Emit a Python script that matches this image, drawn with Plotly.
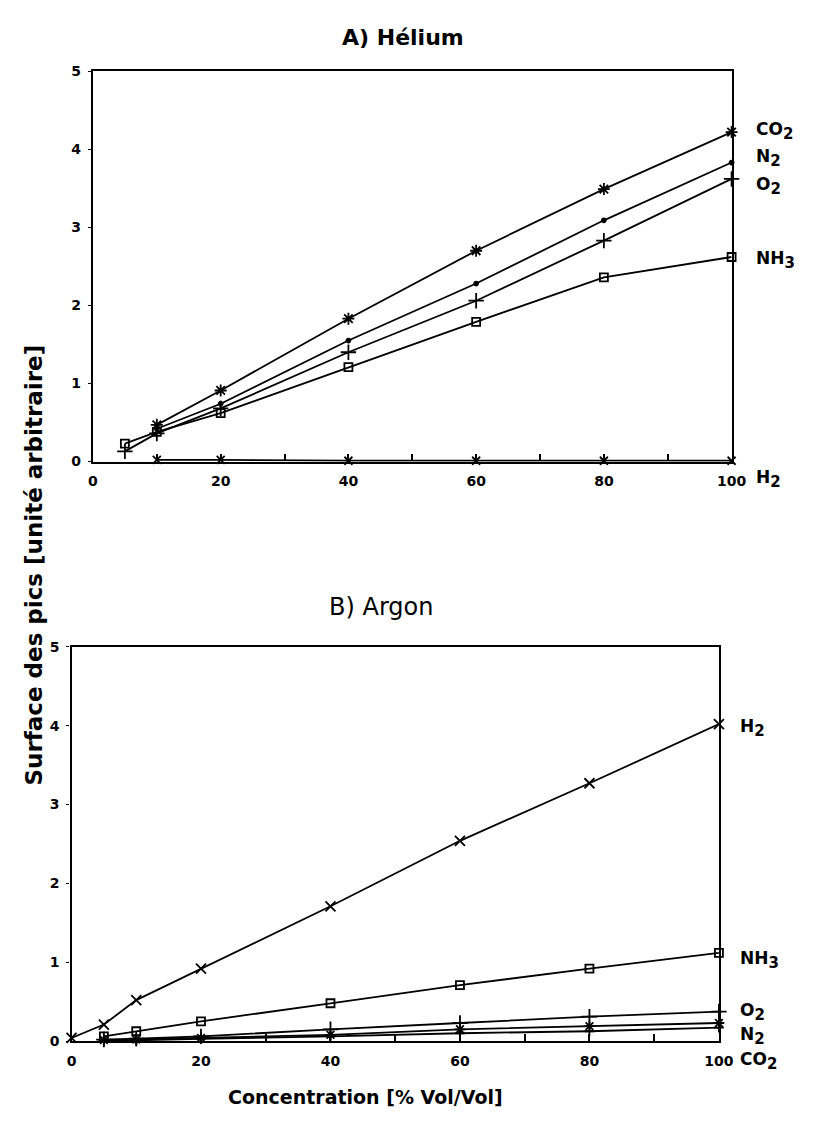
import plotly.graph_objects as go

# page is 817x1134; browser body keeps its default 8px margin
PAGE_W, PAGE_H = 817, 1134
PAD = 8
W, H = PAGE_W - 2 * PAD, PAGE_H - 2 * PAD

# ---------------- data ----------------
# A) Helium
he_co2_x = [10, 20, 40, 60, 80, 100]
he_co2_y = [0.47, 0.91, 1.83, 2.70, 3.49, 4.22]
he_n2_x = [10, 20, 40, 60, 80, 100]
he_n2_y = [0.42, 0.74, 1.55, 2.28, 3.09, 3.83]
he_o2_x = [5, 10, 20, 40, 60, 80, 100]
he_o2_y = [0.13, 0.36, 0.68, 1.40, 2.06, 2.83, 3.62]
he_nh3_x = [5, 10, 20, 40, 60, 80, 100]
he_nh3_y = [0.23, 0.38, 0.62, 1.21, 1.79, 2.36, 2.62]
he_h2_x = [10, 20, 40, 60, 80, 100]
he_h2_y = [0.02, 0.02, 0.01, 0.01, 0.01, 0.01]

# B) Argon
ar_h2_x = [0, 5, 10, 20, 40, 60, 80, 100]
ar_h2_y = [0.04, 0.21, 0.52, 0.92, 1.71, 2.54, 3.27, 4.02]
ar_nh3_x = [5, 10, 20, 40, 60, 80, 100]
ar_nh3_y = [0.06, 0.125, 0.25, 0.48, 0.71, 0.92, 1.12]
ar_o2_x = [5, 10, 20, 40, 60, 80, 100]
ar_o2_y = [0.02, 0.03, 0.06, 0.15, 0.23, 0.31, 0.375]
ar_n2_x = [5, 10, 20, 40, 60, 80, 100]
ar_n2_y = [0.015, 0.02, 0.04, 0.08, 0.15, 0.19, 0.23]
ar_co2_x = [5, 10, 20, 40, 60, 80, 100]
ar_co2_y = [0.01, 0.01, 0.03, 0.06, 0.10, 0.125, 0.17]

x_tickvals = [0, 10, 20, 30, 40, 50, 60, 70, 80, 90, 100]
x_ticktext = ["0", "", "20", "", "40", "", "60", "", "80", "", "100"]
y_tickvals = [0, 1, 2, 3, 4, 5]
y_ticktext = ["0", "1", "2", "3", "4", "5"]

def chem(base, idx):
    return base + '<sub><span style="font-size:15px">' + idx + '</span></sub>'

labels_he = [chem("CO", "2"), chem("N", "2"), chem("O", "2"), chem("NH", "3"), chem("H", "2")]
labels_ar = [chem("H", "2"), chem("NH", "3"), chem("O", "2"), chem("N", "2"), chem("CO", "2")]

FONT = "DejaVu Sans"

def px_x(p):
    return (p - PAD) / W

def px_y(p):
    return 1 - (p - PAD) / H

fig = go.Figure()

line = dict(color="black", width=1.8)

def add(x, y, sym, size, ax):
    fig.add_trace(go.Scatter(
        x=x, y=y, mode="lines+markers", xaxis=ax[0], yaxis=ax[1],
        line=line, cliponaxis=False, showlegend=False, hoverinfo="skip",
        marker=dict(symbol=sym, size=size, color="black",
                    line=dict(color="black", width=1.8)),
    ))

top = ("x", "y")
bot = ("x2", "y2")
add(he_co2_x, he_co2_y, "asterisk-open", 10, top)
add(he_n2_x, he_n2_y, "circle", 4, top)
add(he_o2_x, he_o2_y, "cross-thin-open", 11, top)
add(he_nh3_x, he_nh3_y, "square-open", 8, top)
add(he_h2_x, he_h2_y, "x-thin-open", 8, top)

add(ar_h2_x, ar_h2_y, "x-thin-open", 10, bot)
add(ar_nh3_x, ar_nh3_y, "square-open", 8, bot)
add(ar_o2_x, ar_o2_y, "cross-thin-open", 11, bot)
add(ar_n2_x, ar_n2_y, "asterisk-open", 9, bot)
add(ar_co2_x, ar_co2_y, "cross-thin-open", 7, bot)

tickfont = dict(family=FONT, size=14, color="black", weight="bold")

def xaxis(domain, anchor):
    return dict(domain=domain, anchor=anchor, range=[0, 100],
                tickvals=x_tickvals, ticktext=x_ticktext,
                ticks="inside", ticklen=7, tickwidth=1.5, tickcolor="black",
                ticklabelstandoff=6,
                showline=True, linecolor="black", linewidth=2.2, mirror=True,
                showgrid=False, zeroline=False, tickfont=tickfont)

def yaxis(domain, anchor):
    return dict(domain=domain, anchor=anchor, range=[0, 5],
                tickvals=y_tickvals, ticktext=y_ticktext,
                ticks="outside", ticklen=3, tickwidth=1, tickcolor="black",
                ticklabelstandoff=4,
                showline=True, linecolor="black", linewidth=2.2, mirror=True,
                showgrid=False, zeroline=False, tickfont=tickfont)

fig.update_layout(
    width=W, height=H,
    margin=dict(l=0, r=0, t=0, b=0),
    paper_bgcolor="white", plot_bgcolor="white",
    showlegend=False,
    xaxis=xaxis([px_x(90), px_x(745)], "y"),
    yaxis=yaxis([px_y(460), px_y(64)], "x"),
    xaxis2=xaxis([px_x(68), px_x(732)], "y2"),
    yaxis2=yaxis([px_y(1048), px_y(648)], "x2"),
)

ann = []
lab_font = dict(family=FONT, size=17, color="black", weight="bold")
he_label_py = [125, 152, 180, 256, 478]
for t, py in zip(labels_he, he_label_py):
    ann.append(dict(text=t, x=px_x(768), y=px_y(py), xref="paper", yref="paper",
                    xanchor="left", yanchor="middle", showarrow=False, font=lab_font))
ar_label_py = [730, 966, 1018, 1043, 1068]
for t, py in zip(labels_ar, ar_label_py):
    ann.append(dict(text=t, x=px_x(752), y=px_y(py), xref="paper", yref="paper",
                    xanchor="left", yanchor="middle", showarrow=False, font=lab_font))

ann.append(dict(text="A) Hélium", x=px_x(408), y=px_y(30), xref="paper", yref="paper",
                xanchor="center", yanchor="middle", showarrow=False,
                font=dict(family=FONT, size=22, color="black", weight="bold")))
ann.append(dict(text="B) Argon", x=px_x(385), y=px_y(608), xref="paper", yref="paper",
                xanchor="center", yanchor="middle", showarrow=False,
                font=dict(family=FONT, size=24, color="black")))
ann.append(dict(text="Surface des pics [unité arbitraire]", x=px_x(30), y=px_y(565),
                xref="paper", yref="paper", textangle=-90,
                xanchor="center", yanchor="middle", showarrow=False,
                font=dict(family=FONT, size=23, color="black", weight="bold")))
ann.append(dict(text="Concentration [% Vol/Vol]", x=px_x(370), y=px_y(1105),
                xref="paper", yref="paper",
                xanchor="center", yanchor="middle", showarrow=False,
                font=dict(family=FONT, size=19, color="black", weight="bold")))
fig.update_layout(annotations=ann)

fig.write_html("out.html", config={"displayModeBar": False})
